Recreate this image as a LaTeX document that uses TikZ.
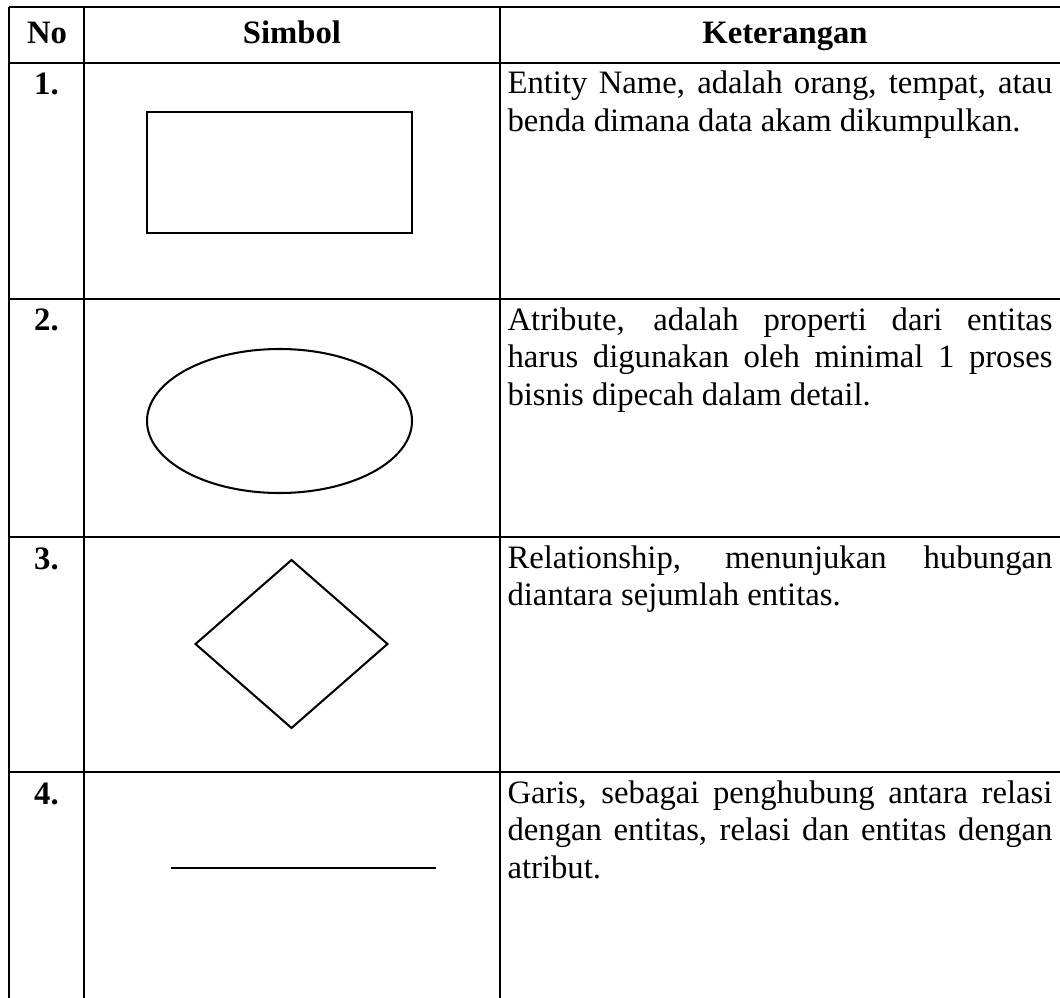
\documentclass[tikz,border=0pt]{standalone}
\usepackage{fontspec}
\setmainfont{Liberation Serif}
\usepackage{tikz}
\usetikzlibrary{calc, positioning}
\newcommand{\tblFont}{\fontsize{12}{13.8}\selectfont}
\tikzset{
    gridLine/.style={line width=0.65pt},
    symLine/.style={line width=0.75pt},
    headText/.style={font=\tblFont\bfseries, anchor=base, inner sep=0pt},
    numText/.style={font=\tblFont\bfseries, anchor=base, inner sep=0pt},
    descText/.style={font=\tblFont\sloppy, anchor=base west, inner sep=0pt, text width=200pt, align=justify},
}
\newcommand{\tblRow}[4]{
    % nomor dan keterangan satu baris
    \node[numText] (#1No) at (46.5, #2+32) {#3};
    \node[descText] (#1Ket) at (507, #2+31) {#4};
}

\begin{document}
\begin{tikzpicture}[x=0.367pt, y={(0pt,-0.367pt)}]
    \useasboundingbox (0,0) rectangle (1060,998);

    % garis tabel
    \foreach \y in {7, 63, 299, 537, 772}
        \draw[gridLine] (9,\y) -- (1060,\y);
    \foreach \x in {9, 84, 500}
        \draw[gridLine] (\x,7) -- (\x,998);

    % judul kolom
    \node[headText] (hNo) at (47, 44) {No};
    \node[headText] (hSimbol) at (292, 44) {Simbol};
    \node[headText] (hKet) at (785, 44) {Keterangan};

    \tblRow{entity}{63}{1.}{Entity Name, adalah orang, tempat, atau\linebreak benda dimana data akam dikumpulkan.}
    \tblRow{attr}{299}{2.}{Atribute, adalah properti dari entitas\linebreak harus digunakan oleh minimal 1 proses\linebreak bisnis dipecah dalam detail.}
    \tblRow{rel}{537}{3.}{Relationship, menunjukan hubungan\linebreak diantara sejumlah entitas.}
    \tblRow{line}{772}{4.}{Garis, sebagai penghubung antara relasi\linebreak dengan entitas, relasi dan entitas dengan\linebreak atribut.}

    % simbol
    \draw[symLine] (147,112) rectangle (412,233);
    \draw[symLine] (279.5,421) ellipse [x radius=132.5, y radius=72];
    \draw[symLine] (291.5,560) -- (387.5,644) -- (291.5,728) -- (195.5,644) -- cycle;
    \draw[symLine] (171,868) -- (436,868);

\end{tikzpicture}
\end{document}
